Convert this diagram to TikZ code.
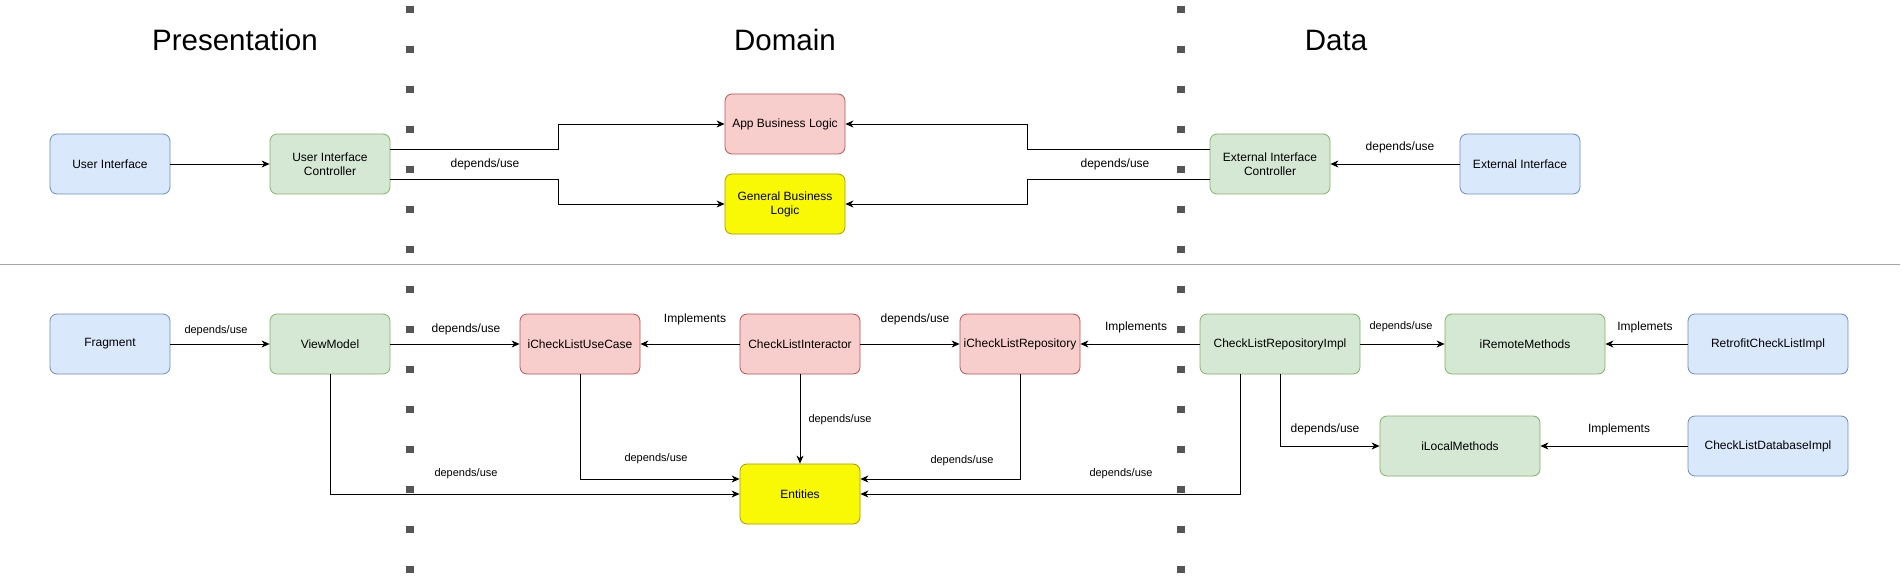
\documentclass[tikz,border=0pt]{standalone}
\usepackage{fontspec}
\setmainfont{Liberation Sans}
\usetikzlibrary{arrows.meta}

\definecolor{bluefill}{HTML}{DAE8FC}
\definecolor{blueline}{HTML}{6C8EBF}
\definecolor{greenfill}{HTML}{D5E8D4}
\definecolor{greenline}{HTML}{82B366}
\definecolor{redfill}{HTML}{F8CECC}
\definecolor{redline}{HTML}{B85450}
\definecolor{yelfill}{HTML}{F9F906}
\definecolor{yelline}{HTML}{A89A00}
\definecolor{sepcol}{HTML}{555555}

\tikzset{
  box/.style={draw, rounded corners=7pt, line width=0.8pt, align=center,
    minimum width=120pt, minimum height=60pt, inner sep=2pt,
    font=\fontsize{12}{14}\selectfont},
  bluebox/.style={box, fill=bluefill, draw=blueline},
  greenbox/.style={box, fill=greenfill, draw=greenline},
  redbox/.style={box, fill=redfill, draw=redline},
  yelbox/.style={box, fill=yelfill, draw=yelline},
  arr/.style={-{Stealth[length=8pt,width=7pt,inset=2.5pt]}, line width=0.9pt},
  tag/.style={font=\fontsize{11}{13}\selectfont, inner sep=0pt},
  tagbig/.style={font=\fontsize{12}{14}\selectfont, inner sep=0pt},
  title/.style={font=\fontsize{29.5}{34}\selectfont},
  sep/.style={sepcol, line width=8pt, dash pattern=on 7pt off 33pt}
}

\begin{document}
\begin{tikzpicture}[x=1pt, y=-1pt]
  \useasboundingbox (0,0) rectangle (1902,580);

  % layers
  \draw[sep] (410,6) -- (410,580);
  \draw[sep] (1181,6) -- (1181,580);
  \draw[gray!70, line width=1pt] (0,264) -- (1900,264);

  \node[title] (tpres) at (235,40) {Presentation};
  \node[title] (tdom) at (785,40) {Domain};
  \node[title] (tdata) at (1336,40) {Data};

  % upper part
  \node[bluebox] (ui) at (110,164) {User Interface};
  \node[greenbox] (uic) at (330,164) {User Interface\\Controller};
  \node[redbox] (abl) at (785,124) {App Business Logic};
  \node[yelbox] (gbl) at (785,204) {General Business\\Logic};
  \node[greenbox] (eic) at (1270,164) {External Interface\\Controller};
  \node[bluebox] (ei) at (1520,164) {External Interface};

  \draw[arr] (ui) -- (uic);
  \draw[arr] ([yshift=15pt]uic.east) -| (558,124) -- (abl.west);
  \draw[arr] ([yshift=-15pt]uic.east) -| (558,204) -- (gbl.west);
  \node[tagbig] (l1) at (485,164) {depends/use};
  \draw[arr] ([yshift=15pt]eic.west) -| (1027,124) -- (abl.east);
  \draw[arr] ([yshift=-15pt]eic.west) -| (1027,204) -- (gbl.east);
  \node[tagbig] (l2) at (1115,164) {depends/use};
  \draw[arr] (ei) -- (eic);
  \node[tagbig] (l3) at (1400,147) {depends/use};

  % lower part
  \node[bluebox] (frag) at (110,344) {Fragment};
  \node[greenbox] (vm) at (330,344) {ViewModel};
  \node[redbox] (uc) at (580,344) {iCheckListUseCase};
  \node[redbox] (cli) at (800,344) {CheckListInteractor};
  \node[redbox] (repo) at (1020,344) {iCheckListRepository};
  \node[greenbox, minimum width=160pt] (impl) at (1280,344) {CheckListRepositoryImpl};
  \node[greenbox, minimum width=160pt] (remote) at (1525,344) {iRemoteMethods};
  \node[bluebox, minimum width=160pt] (retro) at (1768,344) {RetrofitCheckListImpl};
  \node[greenbox, minimum width=160pt] (local) at (1460,446) {iLocalMethods};
  \node[bluebox, minimum width=160pt] (dbimpl) at (1768,446) {CheckListDatabaseImpl};
  \node[yelbox] (ent) at (800,494) {Entities};

  \draw[arr] (frag) -- (vm);
  \node[tag] (l4) at (216,331) {depends/use};
  \draw[arr] (vm) -- (uc);
  \node[tagbig] (l5) at (466,329) {depends/use};
  \draw[arr] (cli) -- (uc);
  \node[tagbig] (l6) at (695,319) {Implements};
  \draw[arr] (cli) -- (repo);
  \node[tagbig] (l7) at (915,319) {depends/use};
  \draw[arr] (impl) -- (repo);
  \node[tagbig] (l8) at (1136,327) {Implements};
  \draw[arr] (impl) -- (remote);
  \node[tag] (l9) at (1401,327) {depends/use};
  \draw[arr] (retro) -- (remote);
  \node[tagbig] (l10) at (1645,327) {Implemets};
  \draw[arr] (impl) |- (local);
  \node[tagbig] (l11) at (1325,429) {depends/use};
  \draw[arr] (dbimpl) -- (local);
  \node[tagbig] (l12) at (1619,429) {Implements};

  \draw[arr] (vm) |- (ent.west);
  \node[tag] (l13) at (466,474) {depends/use};
  \draw[arr] (uc) |- ([yshift=15pt]ent.west);
  \node[tag] (l14) at (656,459) {depends/use};
  \draw[arr] (cli) -- (ent);
  \node[tag] (l15) at (840,420) {depends/use};
  \draw[arr] (repo) |- ([yshift=15pt]ent.east);
  \node[tag] (l16) at (962,461) {depends/use};
  \draw[arr] ([xshift=-40pt]impl.south) |- (ent.east);
  \node[tag] (l17) at (1121,474) {depends/use};
\end{tikzpicture}
\end{document}
